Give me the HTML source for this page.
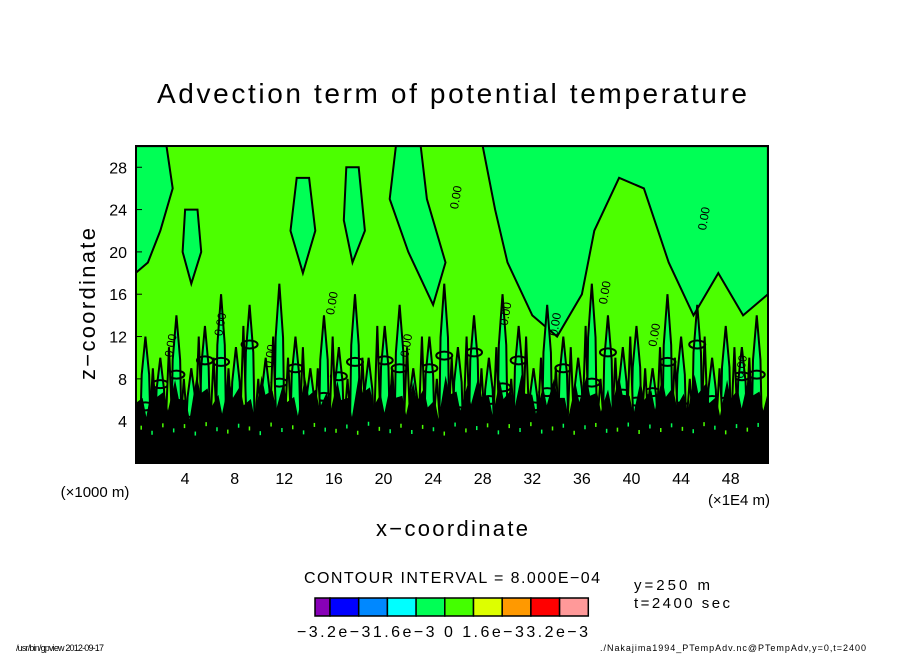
<!DOCTYPE html>
<html><head><meta charset="utf-8"><style>
html,body{margin:0;padding:0;background:#fff;}
svg text{font-family:"Liberation Sans","DejaVu Sans",sans-serif;fill:#000;}
</style></head><body>
<svg id="chart" width="904" height="654" viewBox="0 0 904 654" xmlns="http://www.w3.org/2000/svg">
<rect width="904" height="654" fill="#fff"/>
<text x="452" y="103" font-size="28" text-anchor="middle" textLength="590" lengthAdjust="spacing">Advection term of potential temperature</text>
<defs><clipPath id="pc"><rect x="136" y="146" width="632" height="317"/></clipPath></defs>
<g id="plot" clip-path="url(#pc)">
<rect x="136" y="146" width="632" height="317" fill="#4cff00"/>
</g>
<rect x="136" y="146" width="632" height="317" fill="none" stroke="#000" stroke-width="2"/>
<g id="axes"></g>
<text x="95" y="497" font-size="15" text-anchor="middle">(×1000 m)</text>
<text x="739" y="505" font-size="15" text-anchor="middle">(×1E4 m)</text>
<text x="452" y="536" font-size="22" text-anchor="middle" textLength="152" lengthAdjust="spacing">x−coordinate</text>
<text transform="translate(95,304) rotate(-90)" font-size="22" text-anchor="middle" textLength="152" lengthAdjust="spacing">z−coordinate</text>
<text x="452" y="583" font-size="16" text-anchor="middle" textLength="296" lengthAdjust="spacing">CONTOUR INTERVAL = 8.000E−04</text>
<text x="634" y="590" font-size="15" textLength="76" lengthAdjust="spacing">y=250  m</text>
<text x="634" y="608" font-size="15" textLength="96" lengthAdjust="spacing">t=2400  sec</text>
<g id="cbar"></g>
<text x="297" y="637" font-size="16" textLength="291" lengthAdjust="spacing">−3.2e−31.6e−3  0   1.6e−33.2e−3</text>
<text x="16" y="651" font-size="9" textLength="88" lengthAdjust="spacing">/usr/bin/gpview   2012-09-17</text>
<text x="866" y="651" font-size="9" text-anchor="end" textLength="266" lengthAdjust="spacing">./Nakajima1994_PTempAdv.nc@PTempAdv,y=0,t=2400</text>
</svg>
<script>
const xTicks=[4,8,12,16,20,24,28,32,36,40,44,48];
const zTicks=[4,8,12,16,20,24,28];
const cbColors=["#8800b8","#0000ff","#0088ff","#00ffff","#00ff55","#44ff00","#ddff00","#ff9900","#ff0000","#ff9999"];
// spring-green regions (x,z)
const regionA=[[0,30],[2.5,30],[3,26],[2,22],[1,19],[0,18]];
const regionB=[[21,30],[23,30],[23.5,25],[25,19],[24,15],[22,20],[20.5,25]];
const regionC=[[28,30],[51,30],[51,16],[49,14],[47,18],[45,14],[43,19],[41,26],[39,27],[37,22],[36,16],[34,12],[32,14],[30,19],[29,24]];
const regionD=[[13,27],[14,27],[14.5,22],[13.5,18],[12.5,22]];
const regionE=[[4,24],[5,24],[5.3,20],[4.5,17],[3.8,20]];
const regionF=[[17,28],[18,28],[18.5,22],[17.5,19],[16.8,23]];
const plumeX=[0.8,2.0,3.3,4.5,5.6,6.9,8.1,9.2,10.5,11.6,12.9,14.1,15.2,16.4,17.7,18.8,20.1,21.3,22.4,23.7,24.9,26.0,27.3,28.5,29.6,30.9,32.1,33.2,34.5,35.7,36.8,38.1,39.3,40.4,41.7,42.9,44.0,45.3,46.5,47.6,48.9,50.1];
const plumeTop=[12,10,14,9,13,16,11,15,10,17,12,9,14,11,16,10,13,15,9,12,17,11,14,10,16,13,9,15,12,10,17,14,11,13,9,16,12,15,10,13,11,14];
const plume2X=[1.4,2.7,3.9,5.1,6.3,7.5,8.7,9.9,11.1,12.3,13.5,14.7,15.9,17.1,18.3,19.5,20.7,21.9,23.1,24.3,25.5,26.7,27.9,29.1,30.3,31.5,32.7,33.9,35.1,36.3,37.5,38.7,39.9,41.1,42.3,43.5,44.7,45.9,47.1,48.3,49.5];
const plume2Top=[9,11,8,12,10,9,13,8,12,10,11,9,12,8,10,13,9,11,12,8,10,12,9,11,8,12,10,9,11,13,8,10,12,9,11,10,8,12,9,11,10];
const bandTop=[7.5,6.2,8.1,6.8,7.9,6.0,8.4,7.1,6.5,8.0,7.3,6.1,8.3,6.9,7.6,6.3,8.2,7.0,6.7,7.8,6.2,8.5,7.2,6.6,8.0,6.4,7.7,7.1,6.0,8.3,6.8,7.4,8.1,6.3,7.9,6.9,8.4,6.5,7.3,8.0,6.2,7.6,8.2,6.7,7.0,8.3,6.4,7.8,6.9,8.1,7.2,6.6,8.4,7.5,6.3,7.9,7.0,8.2,6.8,7.7];
const labelX=[3,7,11,16,22,26,30,34,38,42,46,49];
const labelZ=[10,12,9,14,10,24,13,12,15,11,22,8];
const NS="http://www.w3.org/2000/svg";
const sx=x=>135.5+x*12.4, sz=z=>463.5-z*10.58;
const plot=document.getElementById('plot');
function poly(pts,fill,sw){const p=document.createElementNS(NS,'polygon');p.setAttribute('points',pts.map(q=>sx(q[0])+','+sz(q[1])).join(' '));p.setAttribute('fill',fill);p.setAttribute('stroke','#000');p.setAttribute('stroke-width',sw);plot.appendChild(p);return p;}
[regionA,regionB,regionC,regionD,regionE,regionF].forEach((r,i)=>{const p=poly(r,'#00ff55',2);

});
plumeX.forEach((x,i)=>{const t=plumeTop[i];const p=poly([[x-0.4,4],[x-0.3,t*0.7],[x,t],[x+0.3,t*0.7],[x+0.4,4]],'#00ff55',2);


[0.45,0.6,0.75].forEach((f,j)=>{if((i+j)%3==0){const e=document.createElementNS(NS,'ellipse');e.setAttribute('cx',sx(x));e.setAttribute('cy',sz(t*f));e.setAttribute('rx',8);e.setAttribute('ry',4);e.setAttribute('fill','none');e.setAttribute('stroke','#000');e.setAttribute('stroke-width',2);


plot.appendChild(e);}});});
plume2X.forEach((x,i)=>{const t=plume2Top[i];const p=poly([[x-0.25,4],[x,t],[x+0.25,4]],'#4cff00',2);

});
const step=51.5/(bandTop.length-1);
const bp=[[0,0]];bandTop.forEach((z,i)=>{bp.push([i*step-0.3,z]);bp.push([i*step,z-1.8]);});bp.push([52,6]);bp.push([52,0]);
const band=poly(bp,'#000',0);


bandTop.forEach((z,i)=>{const r=document.createElementNS(NS,'rect');r.setAttribute('x',sx(i*step+0.4));r.setAttribute('y',sz((z*0.37)%4+0.8));r.setAttribute('width',1.5);r.setAttribute('height',4);r.setAttribute('fill',i%2?'#00ff55':'#4cff00');


plot.appendChild(r);});
labelX.forEach((x,i)=>{const t=document.createElementNS(NS,'text');t.setAttribute('x',sx(x));t.setAttribute('y',sz(labelZ[i]));t.setAttribute('font-size',12);t.setAttribute('transform','rotate(-80 '+sx(x)+' '+sz(labelZ[i])+')');t.textContent='0.00';


plot.appendChild(t);});
const ax=document.getElementById('axes');
xTicks.forEach(v=>{const t=document.createElementNS(NS,'text');t.setAttribute('x',sx(v));t.setAttribute('y',484);t.setAttribute('font-size',16);t.setAttribute('text-anchor','middle');t.textContent=v;


ax.appendChild(t);
const l=document.createElementNS(NS,'line');l.setAttribute('x1',sx(v));l.setAttribute('x2',sx(v));l.setAttribute('y1',463);l.setAttribute('y2',457);l.setAttribute('stroke','#000');


ax.appendChild(l);});
zTicks.forEach(v=>{const t=document.createElementNS(NS,'text');t.setAttribute('x',127);t.setAttribute('y',sz(v)+6);t.setAttribute('font-size',16);t.setAttribute('text-anchor','end');t.textContent=v;


ax.appendChild(t);
const l=document.createElementNS(NS,'line');l.setAttribute('x1',136);l.setAttribute('x2',142);l.setAttribute('y1',sz(v));l.setAttribute('y2',sz(v));l.setAttribute('stroke','#000');


ax.appendChild(l);});
const cb=document.getElementById('cbar');
cbColors.forEach((c,i)=>{const x0=i==0?315:330+(i-1)*28.7, w=i==0?15:28.7;const r=document.createElementNS(NS,'rect');r.setAttribute('x',x0);r.setAttribute('y',598);r.setAttribute('width',w);r.setAttribute('height',18);r.setAttribute('fill',c);r.setAttribute('stroke','#000');r.setAttribute('stroke-width',1.5);


cb.appendChild(r);});
</script>
</body></html>
